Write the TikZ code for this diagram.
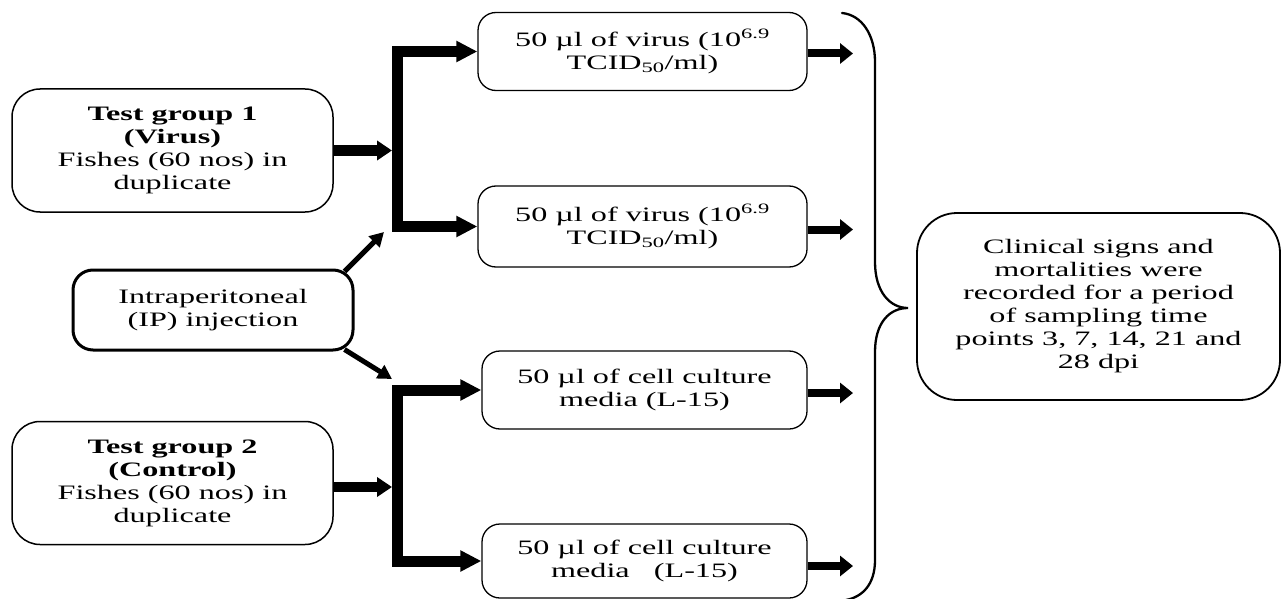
\documentclass[tikz,border=0pt]{standalone}
\usepackage{fontspec}
\setmainfont{Liberation Serif}[FakeStretch=1.57]
\usetikzlibrary{arrows.meta}
\begin{document}
\begin{tikzpicture}[x=1pt,y=-1pt,
  box/.style={draw, line width=1.3pt, rounded corners=18pt, align=center, inner sep=0pt,
    font=\fontsize{20.5}{23}\selectfont},
  grp/.style={box, line width=1.5pt, rounded corners=28pt, minimum width=321pt, minimum height=123pt},
  dose/.style={box, minimum width=327pt, minimum height=78pt},
  fat/.style={line width=10pt, -{Triangle[length=15pt,width=19pt]}},
  barline/.style={line width=11pt, line join=miter,
    {Triangle[length=21pt,width=20pt]}-{Triangle[length=21pt,width=20pt]}},
  outarrow/.style={line width=8pt, -{Triangle[length=13pt,width=20pt]}},
  iparrow/.style={line width=5pt, -{Triangle[length=14pt,width=15pt]}},
  bracket/.style={line width=2.3pt, line cap=round}]
\useasboundingbox (0,0) rectangle (1282,599);

% nodes
\node[grp] (tg1) at (172.5,150.5) {\textbf{Test group 1}\\\textbf{(Virus)}\\Fishes (60 nos) in\\duplicate};
\node[grp] (tg2) at (172.5,483) {\textbf{Test group 2}\\\textbf{(Control)}\\Fishes (60 nos) in\\duplicate};
\node[box, line width=3pt, rounded corners=20pt, minimum width=280pt, minimum height=80pt] (ip) at (213,310) {Intraperitoneal\\(IP) injection};

\node[dose, minimum width=329pt] (b1) at (642.5,51.5) {50 µl of virus (10\textsuperscript{6.9}\\TCID\textsubscript{50}/ml)};
\node[dose, minimum width=329pt, minimum height=81pt] (b2) at (642.5,226.5) {50 µl of virus (10\textsuperscript{6.9}\\TCID\textsubscript{50}/ml)};
\node[dose, minimum width=325pt] (b3) at (644.5,390) {50 µl of cell culture\\media (L-15)};
\node[dose, minimum width=325pt, minimum height=74pt] (b4) at (644.5,561) {50 µl of cell culture\\media \ \ (L-15)};

\node[box, line width=1.8pt, rounded corners=40pt, minimum width=363pt, minimum height=187pt] (clin) at (1098.5,306.5)
  {Clinical signs and\\mortalities were\\recorded for a period\\of sampling time\\points 3, 7, 14, 21 and\\28 dpi};

% helper coordinates
\coordinate (xbar) at (397.5,0);
\coordinate (xbl) at (392,0);
\coordinate (xr) at (853,0);
\coordinate (j1t) at (b1.west -| xbar);
\coordinate (j1b) at (b2.west -| xbar);
\coordinate (j2t) at (b3.west -| xbar);
\coordinate (j2b) at (b4.west -| xbar);
\coordinate (t2e) at ([yshift=-4pt]tg2.east);
\coordinate (ipt) at (384,232);
\coordinate (ipb) at (392,379);
\coordinate (o1) at ([yshift=-2pt]b1.east);
\coordinate (o2) at ([yshift=-3pt]b2.east);
\coordinate (o3) at ([yshift=-3pt]b3.east);
\coordinate (o4) at ([yshift=-5pt]b4.east);

% split bars
\draw[barline] (b1.west) -- (j1t) -- (j1b) -- (b2.west);
\draw[barline] (b3.west) -- (j2t) -- (j2b) -- (b4.west);

% group arrows
\draw[fat] (tg1.east) -- (tg1.east -| xbl);
\draw[fat] (t2e) -- (t2e -| xbl);

% IP arrows
\draw[iparrow] ([xshift=-10pt,yshift=-3pt]ip.north east) -- (ipt);
\draw[iparrow] ([xshift=-10pt,yshift=2pt]ip.south east) -- (ipb);

% outgoing arrows
\draw[outarrow] (o1) -- (o1 -| xr);
\draw[outarrow] (o2) -- (o2 -| xr);
\draw[outarrow] (o3) -- (o3 -| xr);
\draw[outarrow] (o4) -- (o4 -| xr);

% brace
\draw[bracket] (842,13) .. controls (862,15) and (875,35) .. (875,62) -- (875,262)
  .. controls (875,292) and (890,308) .. (908,308)
  .. controls (890,308) and (875,322) .. (875,352) -- (875,560)
  .. controls (875,585) and (862,597) .. (846,600);
\end{tikzpicture}
\end{document}
